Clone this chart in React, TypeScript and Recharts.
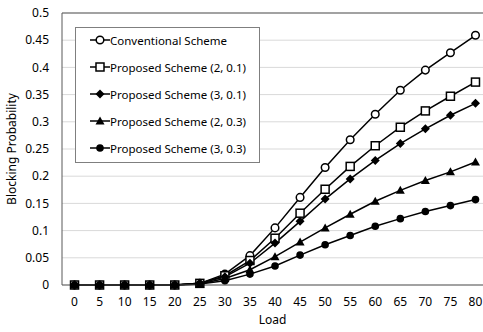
import React from 'react';
import { LineChart, Line, XAxis, YAxis, CartesianGrid, ReferenceLine } from 'recharts';

// --- data ---

const loads = [0, 5, 10, 15, 20, 25, 30, 35, 40, 45, 50, 55, 60, 65, 70, 75, 80];
const conventional = [0, 0, 0, 0, 0, 0.003, 0.02, 0.054, 0.105, 0.161, 0.216, 0.267, 0.314, 0.358, 0.395, 0.427, 0.459];
const proposed2_01 = [0, 0, 0, 0, 0, 0.003, 0.017, 0.045, 0.086, 0.132, 0.176, 0.218, 0.256, 0.29, 0.32, 0.347, 0.373];
const proposed3_01 = [0, 0, 0, 0, 0, 0.003, 0.015, 0.04, 0.077, 0.117, 0.158, 0.195, 0.229, 0.26, 0.287, 0.312, 0.334];
const proposed2_03 = [0, 0, 0, 0, 0, 0.002, 0.012, 0.028, 0.052, 0.079, 0.105, 0.13, 0.154, 0.174, 0.192, 0.208, 0.226];
const proposed3_03 = [0, 0, 0, 0, 0, 0.002, 0.008, 0.02, 0.035, 0.055, 0.074, 0.091, 0.108, 0.122, 0.135, 0.146, 0.157];
const yTicks = [0, 0.05, 0.1, 0.15, 0.2, 0.25, 0.3, 0.35, 0.4, 0.45, 0.5];

type Shape = 'openCircle' | 'openSquare' | 'diamond' | 'triangle' | 'circle';

const seriesList: { key: string; name: string; shape: Shape; values: number[] }[] = [
  { key: 'conv', name: 'Conventional Scheme', shape: 'openCircle', values: conventional },
  { key: 'p2a', name: 'Proposed Scheme (2, 0.1)', shape: 'openSquare', values: proposed2_01 },
  { key: 'p3a', name: 'Proposed Scheme (3, 0.1)', shape: 'diamond', values: proposed3_01 },
  { key: 'p2b', name: 'Proposed Scheme (2, 0.3)', shape: 'triangle', values: proposed2_03 },
  { key: 'p3b', name: 'Proposed Scheme (3, 0.3)', shape: 'circle', values: proposed3_03 },
];

const data = loads.map((load, i) => {
  const row: any = { load };
  seriesList.forEach((s) => (row[s.key] = s.values[i]));
  return row;
});

const FONT = '"Noto Sans", sans-serif';

const Marker = ({ cx, cy, shape }: { cx: number; cy: number; shape: Shape }) => {
  switch (shape) {
    case 'openCircle':
      return <circle cx={cx} cy={cy} r={3.8} fill="#fff" stroke="#000" strokeWidth={1.5} />;
    case 'openSquare':
      return <rect x={cx - 4} y={cy - 4} width={8} height={8} fill="#fff" stroke="#000" strokeWidth={1.5} />;
    case 'diamond':
      return <polygon points={`${cx},${cy - 4.5} ${cx + 4.5},${cy} ${cx},${cy + 4.5} ${cx - 4.5},${cy}`} fill="#000" />;
    case 'triangle':
      return <polygon points={`${cx},${cy - 4.5} ${cx + 4.5},${cy + 3.5} ${cx - 4.5},${cy + 3.5}`} fill="#000" />;
    default:
      return <circle cx={cx} cy={cy} r={3.8} fill="#000" />;
  }
};

// legend box sits over the plot, like the Excel original
const LegendBox = () => (
  <div
    style={{
      position: 'absolute',
      left: 75,
      top: 27,
      width: 183,
      height: 134,
      border: '1px solid #7f7f7f',
      background: '#fff',
      fontFamily: FONT,
      fontSize: 11.5,
      color: '#000',
    }}
  >
    {seriesList.map((s, i) => (
      <div key={s.key} style={{ position: 'absolute', left: 14, top: 2 + i * 27, height: 20, display: 'flex', alignItems: 'center' }}>
        <svg width={20} height={12}>
          <line x1={0} y1={6} x2={20} y2={6} stroke="#000" strokeWidth={1.5} />
          <Marker cx={10} cy={6} shape={s.shape} />
        </svg>
        <span style={{ whiteSpace: 'nowrap' }}>{s.name}</span>
      </div>
    ))}
  </div>
);

export default function App() {
  return (
    <div style={{ position: 'absolute', left: 0, top: 0, width: 483, height: 332, background: '#fff', overflow: 'hidden' }}>
      <style>{`body{margin:0}`}</style>
      <LineChart width={483} height={332} data={data} margin={{ top: 13, right: 0, left: 0, bottom: 0 }}>
        <CartesianGrid vertical={false} stroke="#d9d9d9" />
        <XAxis
          dataKey="load"
          type="number"
          domain={[-2.5, 81.5]}
          ticks={loads}
          interval={0}
          height={47}
          tickLine={false}
          tickSize={0}
          tickMargin={12}
          axisLine={{ stroke: '#595959' }}
          tick={{ fill: '#000', fontSize: 12, fontFamily: FONT }}
          label={{ value: 'Load', position: 'insideBottom', offset: 8, fill: '#000', fontSize: 12, fontFamily: FONT }}
        />
        <YAxis
          domain={[0, 0.5]}
          ticks={yTicks}
          width={62}
          tickLine={false}
          tickSize={0}
          tickMargin={13}
          axisLine={{ stroke: '#595959' }}
          tick={{ fill: '#000', fontSize: 12, fontFamily: FONT }}
          tickFormatter={(v: number) => String(+v.toFixed(2))}
          label={{
            value: 'Blocking Probability',
            angle: -90,
            position: 'insideLeft',
            offset: 12,
            style: { textAnchor: 'middle' },
            fill: '#000',
            fontSize: 12,
            fontFamily: FONT,
          }}
        />
        <ReferenceLine y={0.5} stroke="#595959" />
        {seriesList.map((s) => (
          <Line
            key={s.key}
            dataKey={s.key}
            name={s.name}
            type="linear"
            stroke="#000"
            strokeWidth={1.5}
            isAnimationActive={false}
            dot={(p: any) => <Marker key={`${s.key}-${p.index}`} cx={p.cx} cy={p.cy} shape={s.shape} />}
            activeDot={false}
          />
        ))}
      </LineChart>
      <LegendBox />
    </div>
  );
}
